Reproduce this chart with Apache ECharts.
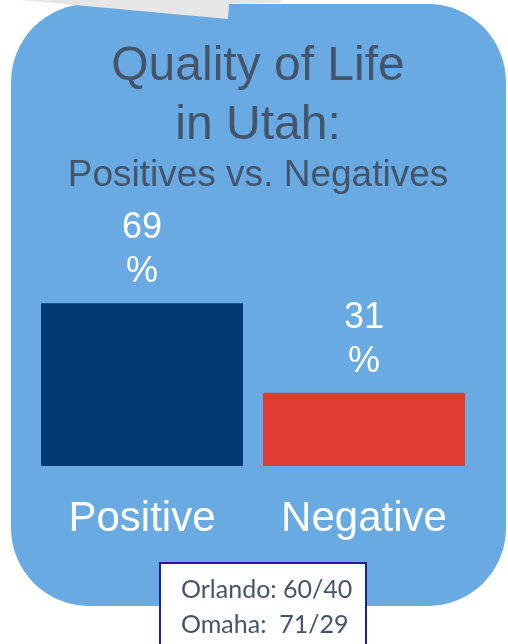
<!DOCTYPE html>
<html>
<head>
<meta charset="utf-8">
<script src="https://cdn.jsdelivr.net/npm/echarts@6/dist/echarts.min.js"></script>
<style>html,body{margin:0;padding:0;background:#fff;}#c{width:508px;height:644px;}</style>
</head>
<body>
<div id="c"></div>
<script>
const categories = ['Positive', 'Negative'];
const values = [69, 31];
const barColors = ['#003a70', '#e03c31'];
const titleLines = ['Quality of Life', 'in Utah:'];
const subtitle = 'Positives vs. Negatives';
const noteLines = ['Orlando: 60/40', 'Omaha:  71/29'];

const chart = echarts.init(document.getElementById('c'), null, {renderer: 'canvas'});
const font = '"Liberation Sans", Arial, sans-serif';
const noteFont = '25px Lato, "Open Sans", sans-serif';

chart.setOption({
  animation: false,
  backgroundColor: '#ffffff',
  graphic: [
    { type: 'rect', z: -10, shape: { x: 11, y: 4, width: 495, height: 602, r: 78 }, style: { fill: '#6aaae3' } },
    { type: 'polygon', z: -5, shape: { points: [[20,0],[228,19],[229,4],[280,3],[282,0]] }, style: { fill: '#e6e6e6' } },
    { type: 'text', x: 258, y: 67, style: { text: titleLines[0], fill: '#44546a', font: '48px ' + font, align: 'center', verticalAlign: 'middle' } },
    { type: 'text', x: 258, y: 126, style: { text: titleLines[1], fill: '#44546a', font: '48px ' + font, align: 'center', verticalAlign: 'middle' } },
    { type: 'text', x: 258, y: 176, style: { text: subtitle, fill: '#44546a', font: '37px ' + font, align: 'center', verticalAlign: 'middle' } },
    { type: 'rect', z: 10, shape: { x: 160, y: 563, width: 206, height: 100 }, style: { fill: '#ffffff', stroke: '#1f1f9e', lineWidth: 2 } },
    { type: 'text', z: 11, x: 181, y: 590, style: { text: noteLines[0], fill: '#44546a', font: noteFont, align: 'left', verticalAlign: 'middle' } },
    { type: 'text', z: 11, x: 181, y: 625, style: { text: noteLines[1], fill: '#44546a', font: noteFont, align: 'left', verticalAlign: 'middle' } }
  ],
  grid: { left: 31, right: 33, top: 230, bottom: 178, containLabel: false },
  xAxis: {
    type: 'category', data: categories,
    axisLine: { show: false }, axisTick: { show: false },
    axisLabel: { color: '#ffffff', fontSize: 42, fontFamily: font, margin: 32, interval: 0 }
  },
  yAxis: { type: 'value', min: 0, max: 100, show: false, splitLine: { show: false } },
  series: [{
    type: 'bar', barWidth: 202,
    data: values.map((v, i) => ({ value: v, itemStyle: { color: barColors[i] } })),
    label: { show: true, position: 'top', distance: 9, formatter: '{c}\n%', color: '#ffffff', fontSize: 36, lineHeight: 44, fontFamily: font }
  }]
});
</script>
</body>
</html>
